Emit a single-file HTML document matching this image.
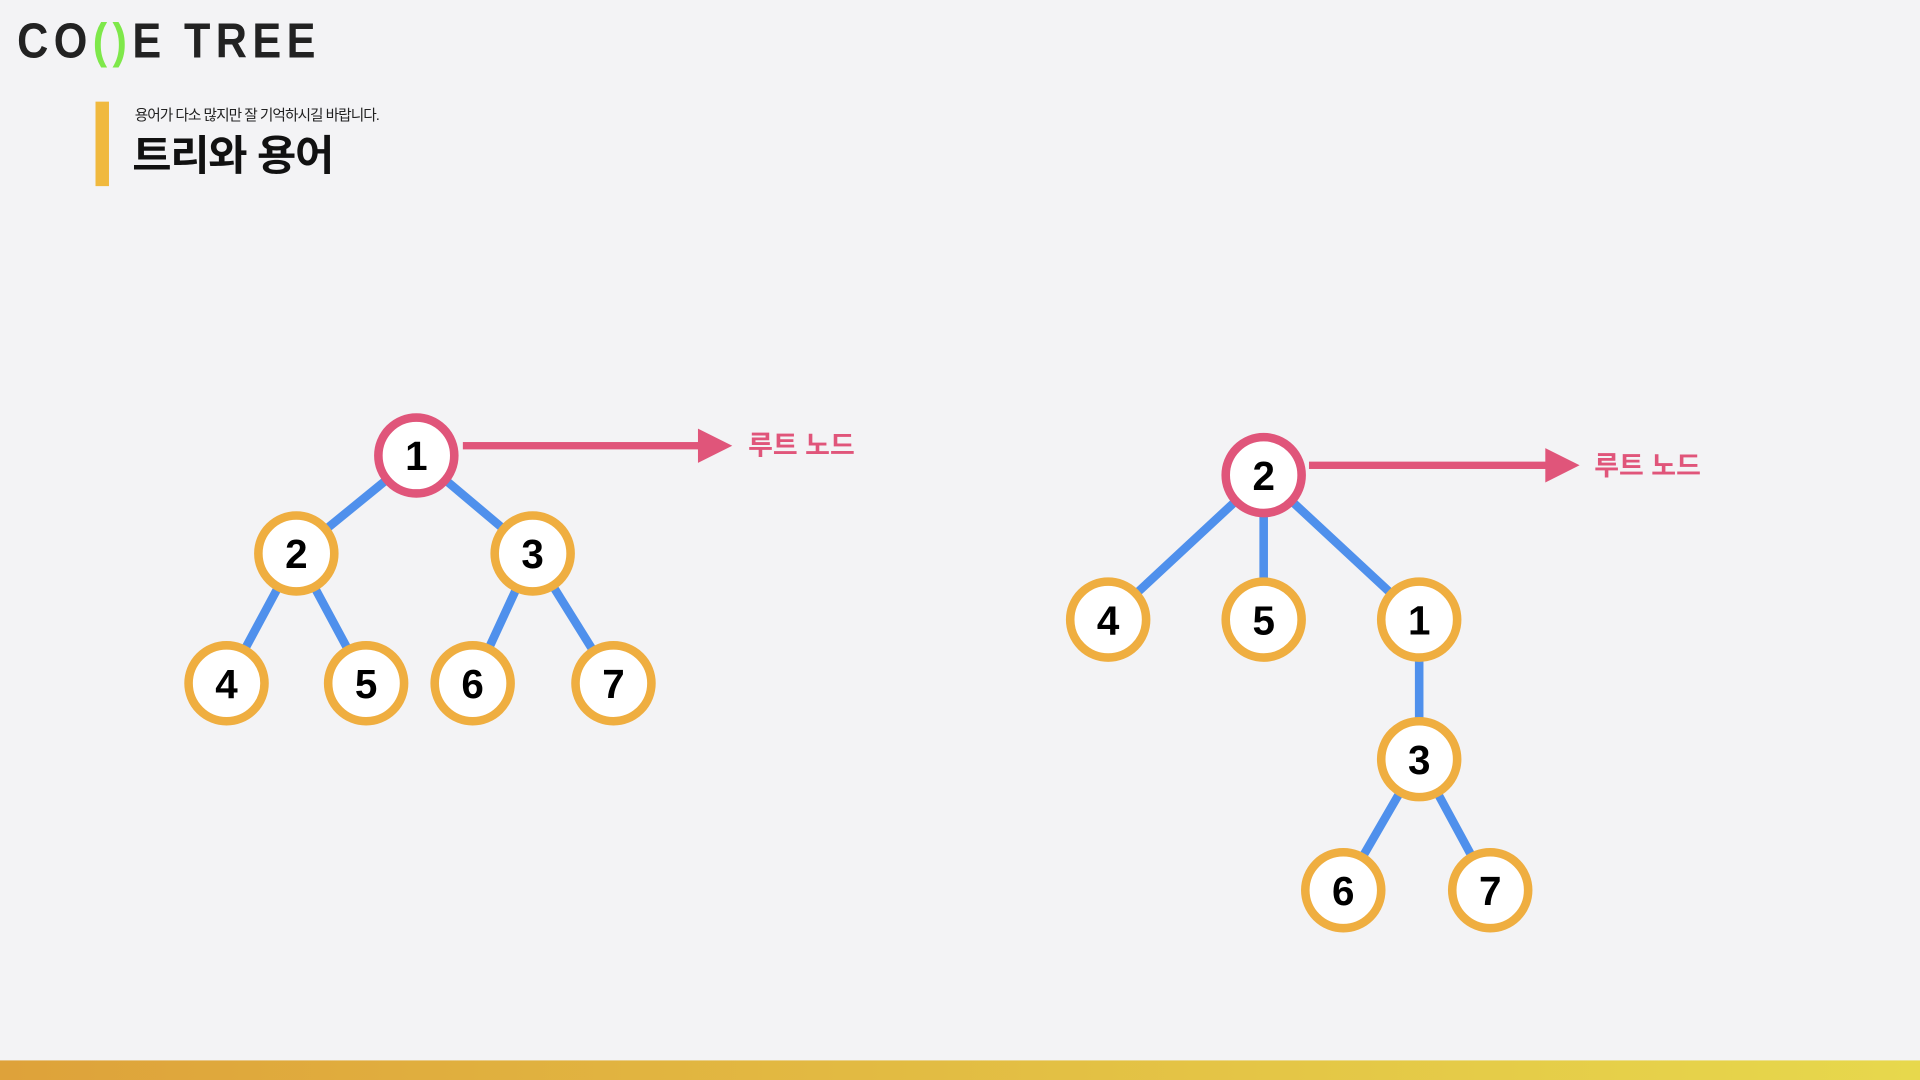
<!DOCTYPE html>
<html><head><meta charset="utf-8"><style>
html,body{margin:0;padding:0;background:#f3f3f5;width:1920px;height:1080px;overflow:hidden}
svg{display:block}
</style></head><body>
<svg width="1920" height="1080" viewBox="0 0 1568 882" xmlns="http://www.w3.org/2000/svg">
<defs><linearGradient id="g" x1="0" x2="1"><stop offset="0" stop-color="#dea23a"/><stop offset="1" stop-color="#e7d84c"/></linearGradient></defs>
<rect width="1568" height="882" fill="#f3f3f5"/>
<text x="14" y="47" font-family="Liberation Sans, sans-serif" font-size="40" font-weight="bold" letter-spacing="5" fill="#222" textLength="248" lengthAdjust="spacingAndGlyphs">CO<tspan fill="#7ee84a">()</tspan>E TREE</text>
<rect x="78" y="83" width="11" height="69" fill="#f0b93e"/>
<text x="110" y="98" font-family="Liberation Sans, Noto Sans CJK KR, sans-serif" font-size="12" fill="#222" letter-spacing="-0.8">용어가 다소 많지만 잘 기억하시길 바랍니다.</text>
<text x="108" y="139" font-family="Liberation Sans, Noto Sans CJK KR, sans-serif" font-size="34" font-weight="bold" fill="#111" letter-spacing="-1" textLength="164" lengthAdjust="spacingAndGlyphs">트리와 용어</text>
<g stroke="#4f90ec" stroke-width="7">
<line x1="340" y1="372" x2="242" y2="452"/><line x1="340" y1="372" x2="435" y2="452"/>
<line x1="242" y1="452" x2="185" y2="558"/><line x1="242" y1="452" x2="299" y2="558"/>
<line x1="435" y1="452" x2="386" y2="558"/><line x1="435" y1="452" x2="501" y2="558"/>
<line x1="1032" y1="388" x2="905" y2="506"/><line x1="1032" y1="388" x2="1032" y2="506"/><line x1="1032" y1="388" x2="1159" y2="506"/>
<line x1="1159" y1="506" x2="1159" y2="620"/>
<line x1="1159" y1="620" x2="1097" y2="727"/><line x1="1159" y1="620" x2="1217" y2="727"/>
</g>
<g stroke-width="7" fill="#fff">
<circle cx="340" cy="372" r="31" stroke="#e0557a"/>
<circle cx="1032" cy="388" r="31" stroke="#e0557a"/>
<g stroke="#efae40">
<circle cx="242" cy="452" r="31"/><circle cx="435" cy="452" r="31"/>
<circle cx="185" cy="558" r="31"/><circle cx="299" cy="558" r="31"/><circle cx="386" cy="558" r="31"/><circle cx="501" cy="558" r="31"/>
<circle cx="905" cy="506" r="31"/><circle cx="1032" cy="506" r="31"/><circle cx="1159" cy="506" r="31"/>
<circle cx="1159" cy="620" r="31"/><circle cx="1097" cy="727" r="31"/><circle cx="1217" cy="727" r="31"/>
</g></g>
<g font-family="Liberation Sans, sans-serif" font-size="33" font-weight="bold" fill="#000" text-anchor="middle">
<text x="340" y="384">1</text><text x="242" y="464">2</text><text x="435" y="464">3</text>
<text x="185" y="570">4</text><text x="299" y="570">5</text><text x="386" y="570">6</text><text x="501" y="570">7</text>
<text x="1032" y="400">2</text><text x="905" y="518">4</text><text x="1032" y="518">5</text><text x="1159" y="518">1</text>
<text x="1159" y="632">3</text><text x="1097" y="739">6</text><text x="1217" y="739">7</text>
</g>
<g fill="#e0557a">
<rect x="378" y="361" width="194" height="6"/><polygon points="570,350 598,364 570,378"/>
<rect x="1069" y="377" width="195" height="6"/><polygon points="1262,366 1290,380 1262,394"/>
</g>
<g font-family="Liberation Sans, Noto Sans CJK KR, sans-serif" font-size="22" fill="#e0557a" font-weight="bold">
<text x="611" y="371">루트 노드</text>
<text x="1302" y="388">루트 노드</text>
</g>
<rect x="0" y="866" width="1568" height="16" fill="url(#g)"/>
</svg>
</body></html>
